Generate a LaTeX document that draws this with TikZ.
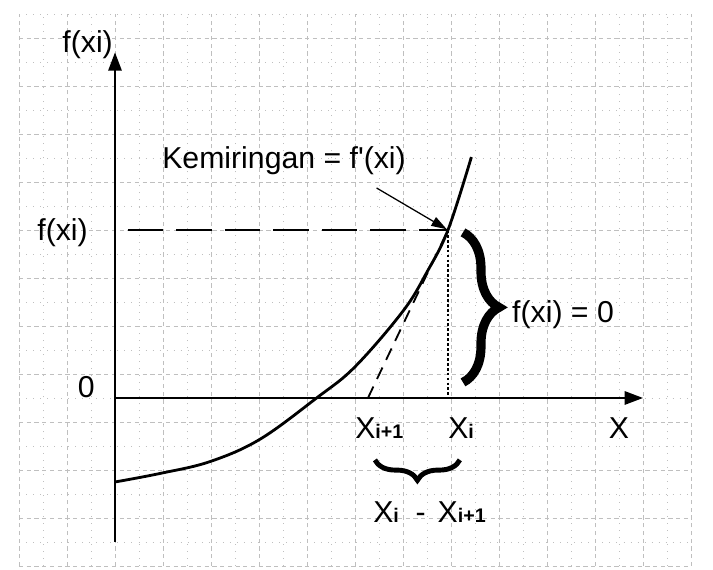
\documentclass[tikz,border=0pt]{standalone}
\usepackage{fontspec}
\setmainfont{Liberation Sans}[Ligatures=TeXOff]
\usetikzlibrary{arrows.meta, positioning, calc, decorations.pathreplacing}

\newcommand{\sm}[1]{{\fontsize{14}{14}\selectfont\bfseries #1}}

\begin{document}
\begin{tikzpicture}[x=6mm, y=6mm,
  every node/.style={font=\fontsize{21.5}{24}\selectfont, inner sep=0pt},
  minorline/.style={black!25, line width=0.6pt, dash pattern=on 0.7pt off 4.3pt},
  majorline/.style={black!25, line width=0.6pt, dash pattern=on 3pt off 2.5pt},
  axis/.style={line width=1.3pt, -{Triangle[length=13pt,width=9.5pt]}},
  curly/.style={decorate, decoration={brace, amplitude=#1}}]
  \useasboundingbox (-4.792,-7.167) rectangle (24.917,16.583);
  % grid paper
  \foreach \x in {-3,-1,...,23} \draw[minorline] (\x,-7) -- (\x,16);
  \foreach \y in {-6,-4,...,16} \draw[minorline] (-4,\y) -- (24,\y);
  \foreach \x in {-4,-2,...,24} \draw[majorline] (\x,-7) -- (\x,16);
  \foreach \y in {-7,-5,...,15} \draw[majorline] (-4,\y) -- (24,\y);
  % axes
  \coordinate (O) at (0,0);
  \coordinate (ytop) at (0,14.4);
  \coordinate (ybot) at (0,-6);
  \coordinate (xend) at (22,0);
  \draw[line width=1.3pt] (O) -- (ybot);
  \draw[axis] (O) -- (ytop);
  \draw[axis] (O) -- (xend);
  % points on the curve and the axis
  \coordinate (P) at (13.875,7);
  \coordinate (Q) at (13.875,0);
  \coordinate (R) at (10.54,0);
  \coordinate (hstart) at (0.54,7);
  % curve
  \draw[line width=2pt] plot[smooth, tension=0.6] coordinates
    {(0,-3.5) (1.9,-3.14) (3.96,-2.65) (6.04,-1.72) (8.4,0) (10,1.3)
     (12,3.62) (13,5.25) (13.875,7) (14.85,10.04)};
  % tangent and guides
  \draw[line width=1.3pt, dash pattern=on 9pt off 6pt] (R) -- (P);
  \draw[line width=1.3pt, dash pattern=on 25pt off 9.5pt] (hstart) -- (P);
  \draw[line width=0.8pt, dash pattern=on 2pt off 1.5pt] (P) -- (Q);
  % labels
  \node[anchor=base east] (ylab) at (-0.08,14.375) {f(xi)};
  \node[anchor=base east] (fxi) at (-1.125,6.58) {f(xi)};
  \node[anchor=base east] (zero) at (-0.83,0.04) {0};
  \node[anchor=base] (xlab) at (21,-1.67) {X};
  \node[anchor=base west] (xnext) at (10,-1.67) {X\sm{i+1}};
  \node[anchor=base west] (xcur) at (13.875,-1.67) {X\sm{i}};
  \node[anchor=base west] (diff) at (10.75,-5.17)
    {X\sm{i}\hspace{0.55em}-\hspace{0.4em}X\sm{i+1}};
  \node[anchor=base west] (eq) at (16.54,3.125) {f(xi) = 0};
  \node[anchor=base west] (kem) at (1.96,9.58) {Kemiringan = f'(xi)};
  % slope arrow
  \coordinate (slopefrom) at (10.9,8.75);
  \draw[line width=0.9pt, -{Triangle[length=11pt,width=7pt]}, shorten >=1pt]
    (slopefrom) -- (P);
  % braces
  \coordinate (btop) at (14.5,6.9);
  \coordinate (bbot) at (14.5,0.65);
  \draw[curly=1.5*6mm, line width=6.5pt] (btop) -- (bbot);
  \coordinate (dright) at (14.37,-2.58);
  \coordinate (dleft) at (10.83,-2.58);
  \draw[curly=0.85*6mm, line width=3.5pt] (dright) -- (dleft);
\end{tikzpicture}
\end{document}
